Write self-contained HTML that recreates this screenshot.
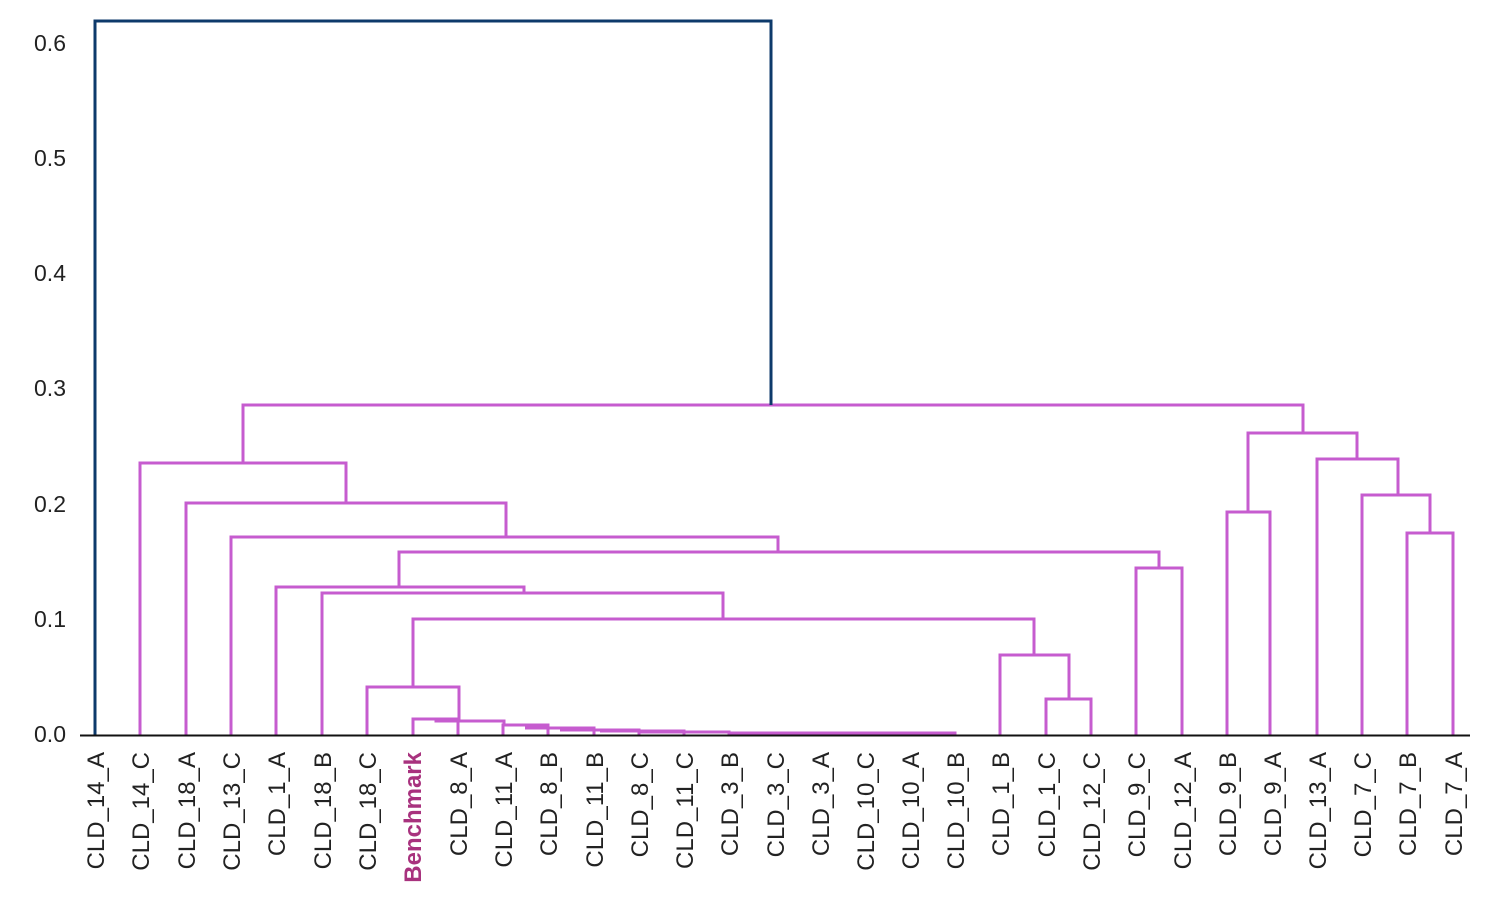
<!DOCTYPE html>
<html><head><meta charset="utf-8"><style>
body{margin:0;background:#fff;}
svg{display:block;font-family:"Liberation Sans",sans-serif;}
</style></head><body>
<svg width="1500" height="898" viewBox="0 0 1500 898" xmlns="http://www.w3.org/2000/svg">
<g font-size="23" fill="#222" text-anchor="end">
<text x="66" y="742">0.0</text>
<text x="66" y="627">0.1</text>
<text x="66" y="512">0.2</text>
<text x="66" y="396">0.3</text>
<text x="66" y="281">0.4</text>
<text x="66" y="166">0.5</text>
<text x="66" y="51">0.6</text>
</g>
<g fill="none" stroke="#c65ccf" stroke-width="3">
<path d="M243 463V405H1303V433"/>
<path d="M140 735V463H346V503"/>
<path d="M186 735V503H506V537"/>
<path d="M231 735V537H778V552"/>
<path d="M399 587V552H1159V568"/>
<path d="M276 735V587H524V593"/>
<path d="M322 735V593H723V619"/>
<path d="M413 687V619H1034V655"/>
<path d="M367 735V687H459V721"/>
<path d="M413 735V719H458V735"/>
<path d="M436 719V721H504V725"/>
<path d="M503 735V725H548V728"/>
<path d="M525 728H594V730"/>
<path d="M548 728V735M594 730V735"/>
<path d="M560 730H639V735"/>
<path d="M600 731H684V735"/>
<path d="M640 732H729V735"/>
<path d="M729 733H955V735"/>
<path d="M775 733V735M820 733V735M865 733V735M910 733V735"/>
<path d="M1000 735V655H1069V699"/>
<path d="M1046 735V699H1091V735"/>
<path d="M1136 735V568H1182V735"/>
<path d="M1248 512V433H1357V459"/>
<path d="M1227 735V512H1270V735"/>
<path d="M1317 735V459H1398V495"/>
<path d="M1362 735V495H1430V533"/>
<path d="M1407 735V533H1453V735"/>
</g>
<path d="M95 735V21H771V405" fill="none" stroke="#0d3a6b" stroke-width="3"/>
<line x1="80" y1="735.5" x2="1470" y2="735.5" stroke="#111" stroke-width="2"/>
<g font-size="24" fill="#222" text-anchor="end">
<text transform="translate(104,752) rotate(-90)">CLD_14_A</text>
<text transform="translate(149,752) rotate(-90)">CLD_14_C</text>
<text transform="translate(195,752) rotate(-90)">CLD_18_A</text>
<text transform="translate(240,752) rotate(-90)">CLD_13_C</text>
<text transform="translate(285,752) rotate(-90)">CLD_1_A</text>
<text transform="translate(331,752) rotate(-90)">CLD_18_B</text>
<text transform="translate(376,752) rotate(-90)">CLD_18_C</text>
<text transform="translate(421,752) rotate(-90)" fill="#a8327e" font-weight="bold">Benchmark</text>
<text transform="translate(467,752) rotate(-90)">CLD_8_A</text>
<text transform="translate(512,752) rotate(-90)">CLD_11_A</text>
<text transform="translate(557,752) rotate(-90)">CLD_8_B</text>
<text transform="translate(603,752) rotate(-90)">CLD_11_B</text>
<text transform="translate(648,752) rotate(-90)">CLD_8_C</text>
<text transform="translate(693,752) rotate(-90)">CLD_11_C</text>
<text transform="translate(738,752) rotate(-90)">CLD_3_B</text>
<text transform="translate(784,752) rotate(-90)">CLD_3_C</text>
<text transform="translate(829,752) rotate(-90)">CLD_3_A</text>
<text transform="translate(874,752) rotate(-90)">CLD_10_C</text>
<text transform="translate(919,752) rotate(-90)">CLD_10_A</text>
<text transform="translate(964,752) rotate(-90)">CLD_10_B</text>
<text transform="translate(1009,752) rotate(-90)">CLD_1_B</text>
<text transform="translate(1055,752) rotate(-90)">CLD_1_C</text>
<text transform="translate(1100,752) rotate(-90)">CLD_12_C</text>
<text transform="translate(1145,752) rotate(-90)">CLD_9_C</text>
<text transform="translate(1191,752) rotate(-90)">CLD_12_A</text>
<text transform="translate(1236,752) rotate(-90)">CLD_9_B</text>
<text transform="translate(1281,752) rotate(-90)">CLD_9_A</text>
<text transform="translate(1326,752) rotate(-90)">CLD_13_A</text>
<text transform="translate(1371,752) rotate(-90)">CLD_7_C</text>
<text transform="translate(1416,752) rotate(-90)">CLD_7_B</text>
<text transform="translate(1462,752) rotate(-90)">CLD_7_A</text>
</g>
</svg>
</body></html>
